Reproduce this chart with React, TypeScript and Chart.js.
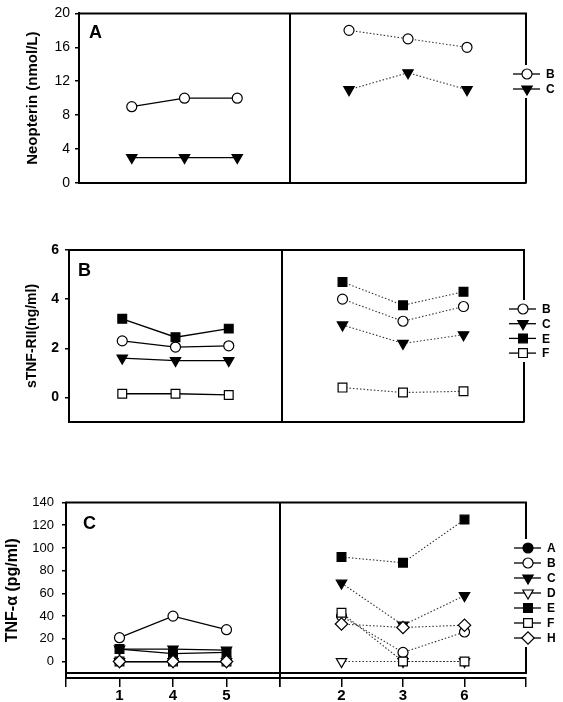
import React, { useEffect, useRef } from 'react';
import { Chart, registerables } from 'chart.js';
import { drawPoint } from 'chart.js/helpers';

Chart.register(...registerables);

// ---------- data ----------
const leftGroupLabels = ['1', '4', '5'];
const rightGroupLabels = ['2', '3', '6'];

// Panel A – Neopterin (nmol/L)
const neopterinSeries = ['B', 'C'];
const neopterinLeftB = [9, 10, 10];
const neopterinLeftC = [3, 3, 3];
const neopterinRightB = [18, 17, 16];
const neopterinRightC = [11, 13, 11];
const neopterinTicks = [0, 4, 8, 12, 16, 20];

// Panel B – sTNF-RII (ng/ml)
const stnfSeries = ['B', 'C', 'E', 'F'];
const stnfLeftB = [2.3, 2.05, 2.1];
const stnfLeftC = [1.6, 1.5, 1.5];
const stnfLeftE = [3.2, 2.45, 2.8];
const stnfLeftF = [0.15, 0.15, 0.1];
const stnfRightB = [4.0, 3.1, 3.7];
const stnfRightC = [2.95, 2.2, 2.55];
const stnfRightE = [4.7, 3.75, 4.3];
const stnfRightF = [0.4, 0.2, 0.25];
const stnfTicks = [0, 2, 4, 6];

// Panel C – TNF-α (pg/ml)
const tnfSeries = ['A', 'B', 'C', 'D', 'E', 'F', 'H'];
const tnfLeftA: (number | null)[] = [null, null, null];
const tnfLeftB = [21, 40, 28];
const tnfLeftC = [11, 11, 10];
const tnfLeftD = [0, 0, 0];
const tnfLeftE = [11, 7, 8];
const tnfLeftF = [0, 0, 0];
const tnfLeftH = [0, 0, 0];
const tnfRightA: (number | null)[] = [null, null, null];
const tnfRightB = [40, 8, 26];
const tnfRightC = [69, 32, 58];
const tnfRightD = [0, 0, 0];
const tnfRightE = [92, 87, 125];
const tnfRightF = [43, 0, 0];
const tnfRightH = [33, 30, 32];
const tnfTicks = [0, 20, 40, 60, 80, 100, 120, 140];

// ---------- styles ----------
const FONT = "'Liberation Sans', Arial, Helvetica, sans-serif";

const markers: Record<string, { style: string; rotation: number; radius: number; filled: boolean }> = {
  A: { style: 'circle', rotation: 0, radius: 5, filled: true },
  B: { style: 'circle', rotation: 0, radius: 5, filled: false },
  C: { style: 'triangle', rotation: 180, radius: 6, filled: true },
  D: { style: 'triangle', rotation: 180, radius: 6, filled: false },
  E: { style: 'rect', rotation: 0, radius: 6.2, filled: true },
  F: { style: 'rect', rotation: 0, radius: 6.2, filled: false },
  H: { style: 'rectRot', rotation: 0, radius: 6.2, filled: false },
};

type PanelCfg = {
  top: number;
  height: number;
  padding: { top: number; right: number; bottom: number; left: number };
  yWidth: number;
  yMin: number;
  yMax: number;
  yTicks: number[];
  yTickFont: { size: number; weight: string };
  yTickPadding: number;
  title: string;
  titleSize: number;
  titlePad: number;
  weights: [number, number];
  xHeight: number;
  showX: boolean;
  names: string[];
  left: (number | null)[][];
  right: (number | null)[][];
  boxBottom: number | null;
  letter: string;
  letterDx: number;
  letterDy: number;
  legendTop: number;
  legendGap: number;
  legendDx: number;
};

const framePlugin = {
  id: 'frame',
  beforeDatasetsDraw(chart: any, _args: any, opts: any) {
    const { ctx, chartArea: ca, scales } = chart;
    const xL = scales.xL;
    const y = scales.y;
    const boxBottom = opts.boxBottom != null ? y.getPixelForValue(opts.boxBottom) : ca.bottom;
    const n = opts.names.length;
    const g0 = opts.legendTop - 9;
    const g1 = opts.legendTop + (n - 1) * opts.legendGap + 9;
    ctx.save();
    ctx.strokeStyle = '#000';
    ctx.lineWidth = 2;
    ctx.beginPath();
    ctx.moveTo(ca.left - 1, ca.top);
    ctx.lineTo(ca.right + 1, ca.top);
    ctx.moveTo(ca.right, ca.top);
    ctx.lineTo(ca.right, g0);
    ctx.moveTo(ca.right, g1);
    ctx.lineTo(ca.right, boxBottom);
    ctx.moveTo(xL.right, ca.top);
    ctx.lineTo(xL.right, ca.bottom);
    if (opts.boxBottom != null) {
      ctx.moveTo(ca.left, boxBottom);
      ctx.lineTo(ca.right + 1, boxBottom);
    }
    ctx.stroke();
    ctx.fillStyle = '#000';
    ctx.font = `bold 18px ${FONT}`;
    ctx.textAlign = 'left';
    ctx.textBaseline = 'alphabetic';
    ctx.fillText(opts.letter, ca.left + opts.letterDx, ca.top + opts.letterDy);
    ctx.restore();
  },
  afterDraw(chart: any, _args: any, opts: any) {
    const { ctx, chartArea: ca } = chart;
    ctx.save();
    opts.names.forEach((name: string, i: number) => {
      const yy = opts.legendTop + i * opts.legendGap;
      const mx = ca.right + opts.legendDx;
      ctx.strokeStyle = '#000';
      ctx.lineWidth = 1.3;
      ctx.beginPath();
      ctx.moveTo(mx - 14, yy);
      ctx.lineTo(mx + 13, yy);
      ctx.stroke();
      const m = markers[name];
      ctx.fillStyle = m.filled ? '#000' : '#fff';
      ctx.lineWidth = 1.2;
      drawPoint(ctx, { pointStyle: m.style as any, rotation: m.rotation, radius: m.radius, borderWidth: 1.2 }, mx, yy);
      ctx.fillStyle = '#000';
      ctx.font = `bold 12px ${FONT}`;
      ctx.textAlign = 'left';
      ctx.textBaseline = 'middle';
      ctx.fillText(name, mx + 19, yy + 1);
    });
    ctx.restore();
  },
};

const panels: PanelCfg[] = [
  {
    top: 0,
    height: 200,
    padding: { top: 10, right: 37, bottom: 17, left: 0 },
    yWidth: 79,
    yMin: 0,
    yMax: 20,
    yTicks: neopterinTicks,
    yTickFont: { size: 14, weight: 'normal' },
    yTickPadding: 5,
    title: 'Neopterin (nmol/L)',
    titleSize: 15,
    titlePad: 24,
    weights: [211, 236],
    xHeight: 0,
    showX: false,
    names: neopterinSeries,
    left: [neopterinLeftB, neopterinLeftC],
    right: [neopterinRightB, neopterinRightC],
    boxBottom: null,
    letter: 'A',
    letterDx: 10,
    letterDy: 25,
    legendTop: 74,
    legendGap: 15,
    legendDx: 1,
  },
  {
    top: 230,
    height: 210,
    padding: { top: 20, right: 39, bottom: 18, left: 0 },
    yWidth: 69,
    yMin: -1,
    yMax: 6,
    yTicks: stnfTicks,
    yTickFont: { size: 14, weight: 'bold' },
    yTickPadding: 6,
    title: 'sTNF-RII(ng/ml)',
    titleSize: 14,
    titlePad: 24,
    weights: [213, 242],
    xHeight: 0,
    showX: false,
    names: stnfSeries,
    left: [stnfLeftB, stnfLeftC, stnfLeftE, stnfLeftF],
    right: [stnfRightB, stnfRightC, stnfRightE, stnfRightF],
    boxBottom: null,
    letter: 'B',
    letterDx: 9,
    letterDy: 26,
    legendTop: 79,
    legendGap: 14.7,
    legendDx: -1,
  },
  {
    top: 480,
    height: 222,
    padding: { top: 22.5, right: 37, bottom: 0, left: 0 },
    yWidth: 66,
    yMin: -14.5,
    yMax: 140,
    yTicks: tnfTicks,
    yTickFont: { size: 13, weight: 'normal' },
    yTickPadding: 8,
    title: 'TNF-α (pg/ml)',
    titleSize: 16,
    titlePad: 3,
    weights: [214, 246],
    xHeight: 24,
    showX: true,
    names: tnfSeries,
    left: [tnfLeftA, tnfLeftB, tnfLeftC, tnfLeftD, tnfLeftE, tnfLeftF, tnfLeftH],
    right: [tnfRightA, tnfRightB, tnfRightC, tnfRightD, tnfRightE, tnfRightF, tnfRightH],
    boxBottom: -10,
    letter: 'C',
    letterDx: 17,
    letterDy: 26.5,
    legendTop: 68,
    legendGap: 15,
    legendDx: 2,
  },
];

function xScale(cfg: PanelCfg, weight: number, labels: string[]) {
  return {
    type: 'linear',
    position: 'bottom',
    stack: 'x',
    stackWeight: weight,
    min: 0,
    max: labels.length + 1,
    afterBuildTicks: (s: any) => {
      const t = [];
      for (let v = 0; v <= labels.length + 1; v++) t.push({ value: v });
      s.ticks = t;
    },
    afterFit: (s: any) => {
      s.height = cfg.xHeight;
    },
    ticks: {
      display: cfg.showX,
      autoSkip: false,
      maxRotation: 0,
      padding: 0,
      color: '#000',
      font: { family: FONT, size: 15, weight: 'bold' },
      callback: (v: any) => labels[Number(v) - 1] ?? '',
    },
    grid: {
      display: cfg.showX,
      drawOnChartArea: false,
      drawTicks: true,
      tickLength: 9,
      color: '#000',
      lineWidth: 1.5,
    },
    border: { display: true, color: '#000', width: 2 },
  };
}

function Panel({ cfg }: { cfg: PanelCfg }) {
  const ref = useRef<HTMLCanvasElement | null>(null);
  useEffect(() => {
    if (!ref.current) return;
    const datasets: any[] = [];
    cfg.names.forEach((name, i) => {
      const m = markers[name];
      const base = {
        label: name,
        yAxisID: 'y',
        borderColor: '#000',
        pointStyle: m.style,
        pointRotation: m.rotation,
        pointRadius: m.radius,
        pointBackgroundColor: m.filled ? '#000' : '#fff',
        pointBorderColor: '#000',
        pointBorderWidth: 1.2,
        fill: false,
        tension: 0,
        order: cfg.names.length - i,
      };
      datasets.push({
        ...base,
        xAxisID: 'xL',
        borderWidth: 1.3,
        data: cfg.left[i].map((v, k) => ({ x: k + 1, y: v })),
      });
      datasets.push({
        ...base,
        xAxisID: 'xR',
        borderWidth: 1.1,
        borderColor: '#333',
        borderDash: [1.5, 2],
        data: cfg.right[i].map((v, k) => ({ x: k + 1, y: v })),
      });
    });
    const chart = new Chart(ref.current, {
      type: 'line',
      data: { datasets },
      plugins: [framePlugin as any],
      options: {
        responsive: false,
        animation: false,
        events: [],
        devicePixelRatio: 1,
        layout: { padding: cfg.padding },
        plugins: {
          legend: { display: false },
          tooltip: { enabled: false },
          frame: {
            names: cfg.names,
            boxBottom: cfg.boxBottom,
            letter: cfg.letter,
            letterDx: cfg.letterDx,
            letterDy: cfg.letterDy,
            legendTop: cfg.legendTop,
            legendGap: cfg.legendGap,
            legendDx: cfg.legendDx,
          },
        } as any,
        scales: {
          xL: xScale(cfg, cfg.weights[0], leftGroupLabels) as any,
          xR: xScale(cfg, cfg.weights[1], rightGroupLabels) as any,
          y: {
            type: 'linear',
            position: 'left',
            min: cfg.yMin,
            max: cfg.yMax,
            afterBuildTicks: (s: any) => {
              s.ticks = cfg.yTicks.map((v) => ({ value: v }));
            },
            afterFit: (s: any) => {
              s.width = cfg.yWidth;
            },
            ticks: {
              color: '#000',
              padding: cfg.yTickPadding,
              font: { family: FONT, size: cfg.yTickFont.size, weight: cfg.yTickFont.weight as any },
            },
            grid: {
              drawOnChartArea: false,
              drawTicks: true,
              tickLength: 4,
              color: '#000',
              lineWidth: 1.5,
            },
            border: { display: true, color: '#000', width: 2 },
            title: {
              display: true,
              text: cfg.title,
              color: '#000',
              font: { family: FONT, size: cfg.titleSize, weight: 'bold' },
              padding: { top: cfg.titlePad, bottom: 0 },
            },
          } as any,
        },
      },
    });
    return () => chart.destroy();
  }, [cfg]);
  return (
    <canvas
      ref={ref}
      width={563}
      height={cfg.height}
      style={{ position: 'absolute', left: 0, top: cfg.top, width: 563, height: cfg.height }}
    />
  );
}

export default function App() {
  return (
    <div
      style={{
        position: 'fixed',
        left: 0,
        top: 0,
        width: 563,
        height: 702,
        background: '#fff',
        overflow: 'hidden',
      }}
    >
      {panels.map((p, i) => (
        <Panel key={i} cfg={p} />
      ))}
    </div>
  );
}
